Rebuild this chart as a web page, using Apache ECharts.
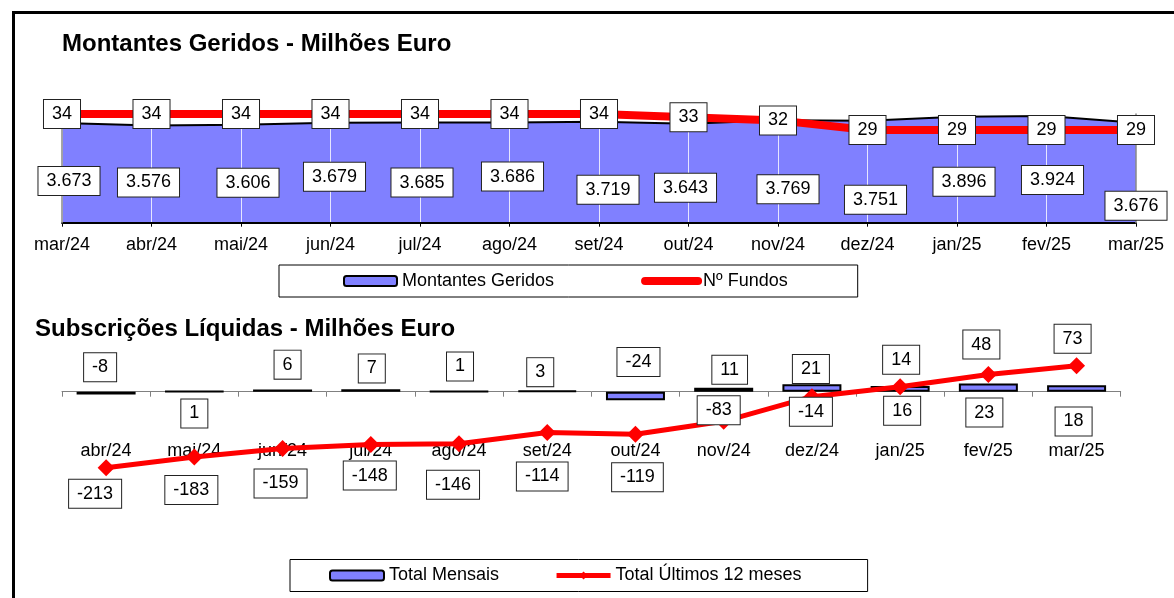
<!DOCTYPE html>
<html><head><meta charset="utf-8">
<script src="https://cdn.jsdelivr.net/npm/echarts@6/dist/echarts.min.js"></script>
<style>html,body{margin:0;padding:0;background:#fff}#c{width:1174px;height:598px}</style>
</head><body><div id="c"></div>
<script>
// ---------- data ----------
const topCategories = ['mar/24','abr/24','mai/24','jun/24','jul/24','ago/24','set/24','out/24','nov/24','dez/24','jan/25','fev/25','mar/25'];
const montantesGeridos = [3673,3576,3606,3679,3685,3686,3719,3643,3769,3751,3896,3924,3676];
const numFundos = [34,34,34,34,34,34,34,33,32,29,29,29,29];
const bottomCategories = ['abr/24','mai/24','jun/24','jul/24','ago/24','set/24','out/24','nov/24','dez/24','jan/25','fev/25','mar/25'];
const totalMensais = [-8,1,6,7,1,3,-24,11,21,16,23,18];
const totalUltimos12 = [-213,-183,-159,-148,-146,-114,-119,-83,-14,14,48,73];

// ---------- label layout (pixel nudges, not data) ----------
const mgLabelOffset = [[7,58],[-3,57],[7,58],[4,54],[2,60],[3,54],[9,68],[-3,64],[10,69],[8,79],[7,65],[6,64],[0,83]];
const barLabelOffset = [[-6,-26],[0,22],[5,-26],[1,-22],[1,-25],[-7,-19],[3,-34],[6,-20],[-1,-19],[2,22],[-4,25],[-3,33]];
const lineLabelOffset = [[-11,26],[-3,33],[-2,35],[-1,31],[-6,41],[-5,44],[2,43],[-5,-11],[-1,15],[1,-27],[-7,-30],[-4,-27]];

const FF = "'Liberation Sans', Arial, sans-serif";
const boxLabel = {
  show: true, position: 'inside', color: '#000', fontSize: 18, fontFamily: FF,
  backgroundColor: '#fff', borderColor: '#222', borderWidth: 1,
  padding: [5, 8, 5, 8], lineHeight: 18
};
const thou = v => String(v).replace(/\B(?=(\d{3})+(?!\d))/g, '.');

const chart = echarts.init(document.getElementById('c'), null, {renderer: 'canvas'});
const option = {
  animation: false,
  backgroundColor: '#fff',
  graphic: [{
    type: 'rect', silent: true, z: 100,
    shape: {x: 13.5, y: 12.5, width: 1400, height: 800},
    style: {fill: 'none', stroke: '#000', lineWidth: 3}
  }],
  title: [
    {text: 'Montantes Geridos - Milhões Euro', left: 62, top: 32, padding: 0,
     textStyle: {fontSize: 24, fontWeight: 'bold', fontFamily: FF, color: '#000'}},
    {text: 'Subscrições Líquidas - Milhões Euro', left: 35, top: 317, padding: 0,
     textStyle: {fontSize: 24, fontWeight: 'bold', fontFamily: FF, color: '#000'}}
  ],
  legend: [
    {left: 279, top: 265, padding: [7, 70, 7, 64], itemGap: 87, itemWidth: 53, itemHeight: 10,
     borderColor: '#000', borderWidth: 1, selectedMode: false,
     textStyle: {fontSize: 18, color: '#000', fontFamily: FF},
     data: [
       {name: 'Montantes Geridos', icon: 'roundRect', itemStyle: {color: '#8080FF', borderColor: '#000', borderWidth: 2}},
       {name: 'Nº Fundos', itemStyle: {color: '#FF0000', opacity: 0}, lineStyle: {color: '#FF0000', width: 8, cap: 'round'}}
     ]},
    {left: 290, top: 559.5, padding: [7, 66, 7, 39], itemGap: 55, itemWidth: 54, itemHeight: 10,
     borderColor: '#000', borderWidth: 1, selectedMode: false,
     textStyle: {fontSize: 18, color: '#000', fontFamily: FF},
     data: [
       {name: 'Total Mensais', icon: 'roundRect', itemStyle: {color: '#8080FF', borderColor: '#000', borderWidth: 2}},
       {name: 'Total Últimos 12 meses', lineStyle: {color: '#FF0000', width: 5}}
     ]}
  ],
  grid: [
    {left: 62, right: 38, top: 114, height: 108.7, containLabel: false},
    {left: 62, right: 53.3, top: 356, height: 142.8, containLabel: false}
  ],
  xAxis: [
    {gridIndex: 0, type: 'category', data: topCategories, boundaryGap: false, z: 3,
     axisLine: {lineStyle: {color: '#000', width: 2}},
     axisTick: {show: true, length: 4, lineStyle: {color: '#000', width: 1}},
     axisLabel: {margin: 13, color: '#000', fontSize: 18, fontFamily: FF, interval: 0},
     splitLine: {show: true, lineStyle: {color: 'rgba(255,255,255,0.8)', width: 1}}},
    {gridIndex: 1, type: 'category', data: bottomCategories, boundaryGap: true,
     axisLine: {onZero: true, lineStyle: {color: '#808080', width: 1}},
     axisTick: {show: true, length: 5, lineStyle: {color: '#808080'}},
     axisLabel: {margin: -57, color: '#000', fontSize: 18, fontFamily: FF, interval: 0},
     splitLine: {show: false}}
  ],
  yAxis: [
    {gridIndex: 0, type: 'value', min: 0, max: 4000, z: 4,
     axisLine: {show: true, lineStyle: {color: '#888', width: 1.5}},
     axisTick: {show: false}, axisLabel: {show: false}, splitLine: {show: false}},
    {gridIndex: 0, type: 'value', min: 0, max: 34, position: 'right', z: 4,
     axisLine: {show: true, lineStyle: {color: '#888', width: 1.5}},
     axisTick: {show: false}, axisLabel: {show: false}, splitLine: {show: false}},
    {gridIndex: 1, type: 'value', min: -300, max: 100, show: false}
  ],
  series: [
    {name: 'Montantes Geridos', type: 'line', xAxisIndex: 0, yAxisIndex: 0, z: 2,
     data: montantesGeridos, symbol: 'none', silent: true,
     lineStyle: {color: '#000', width: 2},
     itemStyle: {color: '#8080FF', borderColor: '#000', borderWidth: 2},
     areaStyle: {color: '#8080FF', opacity: 1}},
    {name: 'mgLabels', type: 'line', xAxisIndex: 0, yAxisIndex: 0, z: 4, silent: true,
     data: montantesGeridos.map((v, i) => ({value: v, label: {offset: mgLabelOffset[i]}})),
     symbol: 'circle', symbolSize: 1, showSymbol: true,
     itemStyle: {color: 'rgba(0,0,0,0)'}, lineStyle: {opacity: 0},
     label: Object.assign({}, boxLabel, {formatter: p => thou(p.value)})},
    {name: 'Nº Fundos', type: 'line', xAxisIndex: 0, yAxisIndex: 1, z: 5, silent: true,
     data: numFundos, symbol: 'circle', symbolSize: 1, showSymbol: true,
     lineStyle: {color: '#FF0000', width: 8}, itemStyle: {color: '#FF0000'},
     label: Object.assign({}, boxLabel)},
    {name: 'Total Mensais', type: 'bar', xAxisIndex: 1, yAxisIndex: 2, z: 2, silent: true,
     barWidth: 59,
     data: totalMensais.map((v, i) => ({value: v, label: {offset: barLabelOffset[i]}})),
     itemStyle: {color: '#8080FF', borderColor: '#000', borderWidth: 2},
     label: Object.assign({}, boxLabel)},
    {name: 'Total Últimos 12 meses', type: 'line', xAxisIndex: 1, yAxisIndex: 2, z: 3, silent: true,
     data: totalUltimos12.map((v, i) => ({value: v, label: {offset: lineLabelOffset[i]}})),
     symbol: 'diamond', symbolSize: 17, showSymbol: true,
     lineStyle: {color: '#FF0000', width: 5}, itemStyle: {color: '#FF0000'},
     label: Object.assign({}, boxLabel)}
  ]
};
chart.setOption(option);
</script>
</body></html>
